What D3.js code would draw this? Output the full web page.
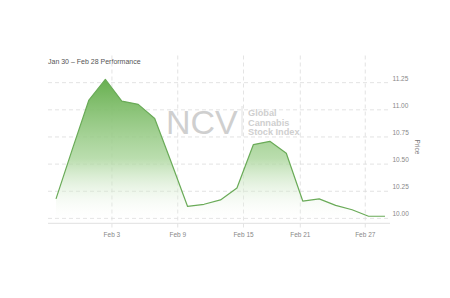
<!DOCTYPE html>
<html>
<head>
<meta charset="utf-8">
<script src="https://cdnjs.cloudflare.com/ajax/libs/d3/7.8.5/d3.min.js"></script>
<style>
  body { margin: 0; background: #fff; }
  svg text { font-family: "Liberation Sans", Arial, sans-serif; }
  .grid line { stroke: #dcdcdc; stroke-width: 0.8px; stroke-dasharray: 4,3; }
</style>
</head>
<body>
<script>
// trading days Jan 30 - Feb 28
var days = ["Jan 30","Jan 31","Feb 3","Feb 4","Feb 5","Feb 6","Feb 7",
            "Feb 10","Feb 11","Feb 12","Feb 13","Feb 14",
            "Feb 18","Feb 19","Feb 20","Feb 21",
            "Feb 24","Feb 25","Feb 26","Feb 27","Feb 28"];
var prices = [10.18, 10.64, 11.09, 11.28, 11.08, 11.05, 10.92,
              10.52, 10.11, 10.13, 10.17, 10.28,
              10.68, 10.71, 10.60, 10.16,
              10.18, 10.12, 10.08, 10.02, 10.02];
var xTickLabels = ["Feb 3", "Feb 9", "Feb 15", "Feb 21", "Feb 27"];
var xTickPos = [3.4, 7.4, 11.4, 14.85, 18.8];   // in day-index units
var yTicks = [10.00, 10.25, 10.50, 10.75, 11.00, 11.25];

var W = 450, H = 298;
var plotLeft = 48, plotRight = 390, plotTop = 55.5, plotBottom = 223.3;

var svg = d3.select("body").append("svg")
  .attr("width", W).attr("height", H);

var x = d3.scaleLinear().domain([0, days.length - 1]).range([56, 385]);
var y = d3.scaleLinear().domain([9.955, 11.5]).range([plotBottom, plotTop]);

// gradient for the area
var grad = svg.append("defs").append("linearGradient")
  .attr("id", "fillGrad")
  .attr("gradientUnits", "userSpaceOnUse")
  .attr("x1", 0).attr("x2", 0)
  .attr("y1", y(11.28)).attr("y2", plotBottom);
grad.append("stop").attr("offset", "0%").attr("stop-color", "#68b050").attr("stop-opacity", 1);
grad.append("stop").attr("offset", "55%").attr("stop-color", "#a9d59a").attr("stop-opacity", 0.8);
grad.append("stop").attr("offset", "100%").attr("stop-color", "#ffffff").attr("stop-opacity", 0);

// title
svg.append("text")
  .attr("x", 48).attr("y", 63.5)
  .attr("font-size", 7).attr("fill", "#555")
  .text("Jan 30 \u2013 Feb 28 Performance");

// horizontal grid
svg.append("g").attr("class", "grid")
  .selectAll("line").data(yTicks).enter().append("line")
  .attr("x1", plotLeft).attr("x2", plotRight)
  .attr("y1", function(d) { return y(d); })
  .attr("y2", function(d) { return y(d); });

// vertical grid
svg.append("g").attr("class", "grid")
  .selectAll("line").data(xTickPos).enter().append("line")
  .attr("x1", function(d) { return x(d); })
  .attr("x2", function(d) { return x(d); })
  .attr("y1", plotTop).attr("y2", plotBottom + 5);

// watermark
var wm = svg.append("g").attr("fill", "#cfcfcf");
wm.append("text").attr("x", 166).attr("y", 133.5)
  .attr("font-size", 34).text("NCV");
wm.append("line").attr("x1", 242).attr("x2", 242).attr("y1", 106).attr("y2", 136)
  .attr("stroke", "#d8d8d8").attr("stroke-width", 0.8);
["Global", "Cannabis", "Stock Index"].forEach(function(t, i) {
  wm.append("text").attr("x", 248).attr("y", 116.3 + i * 9.4)
    .attr("font-size", 9.2).attr("font-weight", "bold").text(t);
});

// area + line
var area = d3.area()
  .x(function(d, i) { return x(i); })
  .y0(plotBottom)
  .y1(function(d) { return y(d); });
var line = d3.line()
  .x(function(d, i) { return x(i); })
  .y(function(d) { return y(d); });

svg.append("path").datum(prices)
  .attr("d", area).attr("fill", "url(#fillGrad)");
svg.append("path").datum(prices)
  .attr("d", line).attr("fill", "none")
  .attr("stroke", "#6aab58").attr("stroke-width", 1.2)
  .attr("stroke-linejoin", "round");

// x baseline
svg.append("line")
  .attr("x1", plotLeft).attr("x2", plotRight)
  .attr("y1", plotBottom).attr("y2", plotBottom)
  .attr("stroke", "#e0e0e0").attr("stroke-width", 1);

// x labels
svg.append("g").selectAll("text").data(xTickPos).enter().append("text")
  .attr("x", function(d) { return x(d); })
  .attr("y", 236.5)
  .attr("text-anchor", "middle")
  .attr("font-size", 6.5).attr("fill", "#888")
  .text(function(d, i) { return xTickLabels[i]; });

// y labels
svg.append("g").selectAll("text").data(yTicks).enter().append("text")
  .attr("x", 392.5)
  .attr("y", function(d) { return y(d) - 2; })
  .attr("font-size", 6.5).attr("fill", "#888")
  .text(function(d) { return d3.format(".2f")(d); });

// axis title
svg.append("text")
  .attr("transform", "translate(415,147) rotate(90)")
  .attr("text-anchor", "middle")
  .attr("font-size", 6.5).attr("fill", "#777")
  .text("Price");
</script>
</body>
</html>
